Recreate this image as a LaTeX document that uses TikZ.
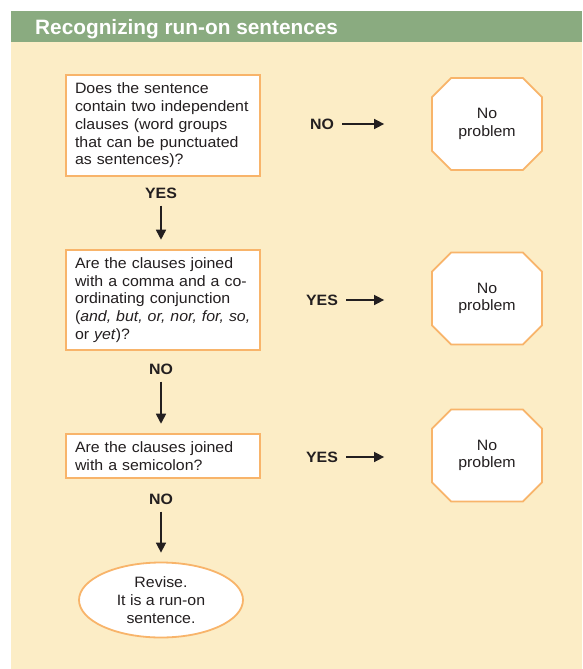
\documentclass[tikz,border=0pt]{standalone}
\usepackage{fontspec}
\setmainfont{Liberation Sans}
\newfontfamily\bodyfont[FakeStretch=1.06]{Liberation Sans}
\usepackage{xcolor}
\usetikzlibrary{positioning, arrows.meta, shapes.geometric, shapes.misc}
\definecolor{headgreen}{HTML}{8AAB80}
\definecolor{panelbg}{HTML}{FCEDC6}
\definecolor{edgeorange}{HTML}{F8B46A}
\definecolor{inkdark}{HTML}{231F20}
\hyphenpenalty=10000

\begin{document}
\begin{tikzpicture}[x=1pt, y=-1pt,
  question/.style={draw=edgeorange, line width=1.8pt, fill=white, text=inkdark, align=left, text width=176pt, inner xsep=9pt, inner ysep=8pt, minimum width=194pt, font=\bodyfont\fontsize{15}{17.7}\selectfont},
  okstop/.style={chamfered rectangle, chamfered rectangle xsep=27pt, draw=edgeorange, line width=1.8pt, fill=white, text=inkdark, align=center, minimum width=110pt, minimum height=92pt, inner sep=0pt, font=\bodyfont\fontsize{15}{17.7}\selectfont},
  verdict/.style={ellipse, draw=edgeorange, line width=1.8pt, fill=white, text=inkdark, align=center, minimum width=164pt, minimum height=75pt, inner sep=0pt, font=\bodyfont\fontsize{15}{17.7}\selectfont},
  answer/.style={text=inkdark, font=\bodyfont\fontsize{15}{16}\selectfont\bfseries, inner sep=0pt},
  arr/.style={-{Triangle[length=10pt, width=10pt]}, draw=inkdark, line width=1.6pt}
]
  \useasboundingbox (0,0) rectangle (582,669);
  % panel and title band
  \fill[panelbg] (11,42) rectangle (582,669);
  \fill[headgreen] (11,11) rectangle (582,42);
  \node[anchor=base west, text=white, font=\fontsize{20.8}{24}\selectfont\bfseries, inner sep=0pt] (title) at (35,35) {Recognizing run-on sentences};

  % questions
  \node[question] (q1) at (163,125.5) {Does the sentence\\contain two independent\\clauses (word groups\\that can be punctuated\\as sentences)?};
  \node[question] (q2) at (163,300) {Are the clauses joined\\with a comma and a co-\\ordinating conjunction\\(\textit{and, but, or, nor, for, so,}\\or \textit{yet})?};
  \node[question] (q3) at (163,456) {Are the clauses joined\\with a semicolon?};

  % outcomes
  \node[okstop] (ok1) at (487,124) {No\\problem};
  \node[okstop] (ok2) at (487,298.5) {No\\problem};
  \node[okstop] (ok3) at (487,455.5) {No\\problem};
  \node[verdict] (runon) at (161,600) {Revise.\\It is a run-on\\sentence.};

  % answers
  \node[answer] (yes1) at (161,193) {YES};
  \node[answer] (no2) at (161,369) {NO};
  \node[answer] (no3) at (161,499) {NO};
  \node[answer] (no1) at (322,124) {NO};
  \node[answer] (yes2) at (322,300) {YES};
  \node[answer] (yes3) at (322,457) {YES};

  \draw[arr, shorten <=7pt, shorten >=9pt] (yes1.south) -- (yes1.south |- q2.north);
  \draw[arr, shorten <=7pt, shorten >=9pt] (no2.south) -- (no2.south |- q3.north);
  \draw[arr, shorten <=7pt, shorten >=9pt] (no3.south) -- (no3.south |- runon.north);
  \draw[arr, shorten <=8pt, shorten >=47pt] (no1.east) -- (no1.east -| ok1.west);
  \draw[arr, shorten <=8pt, shorten >=47pt] (yes2.east) -- (yes2.east -| ok2.west);
  \draw[arr, shorten <=8pt, shorten >=47pt] (yes3.east) -- (yes3.east -| ok3.west);
\end{tikzpicture}
\end{document}
